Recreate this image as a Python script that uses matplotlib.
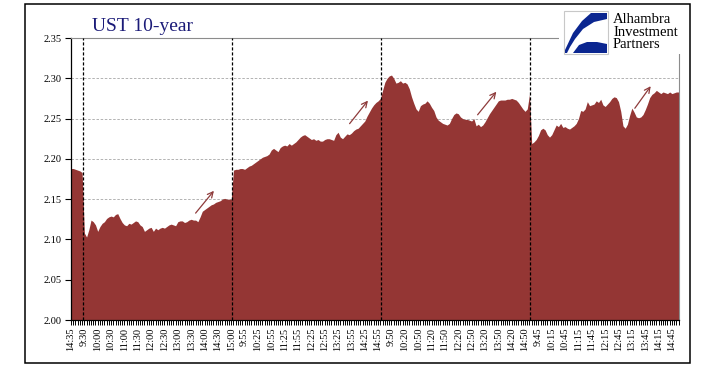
import matplotlib
matplotlib.use("Agg")
import matplotlib.pyplot as plt
from matplotlib.patches import Rectangle, Polygon

# UST 10-year yield, 5-minute bars over five sessions
day1 = [2.188, 2.188, 2.187, 2.186, 2.185, 2.183]
day2 = [2.108, 2.103, 2.112, 2.124, 2.122, 2.118, 2.110, 2.116, 2.120, 2.122,
        2.126, 2.128, 2.129, 2.128, 2.131, 2.132, 2.126, 2.121, 2.118, 2.117,
        2.120, 2.119, 2.121, 2.123, 2.122, 2.118, 2.116, 2.110, 2.112, 2.114,
        2.115, 2.110, 2.114, 2.112, 2.114, 2.115, 2.114, 2.116, 2.118, 2.119,
        2.118, 2.117, 2.122, 2.123, 2.123, 2.121, 2.122, 2.124, 2.125, 2.124,
        2.124, 2.122, 2.128, 2.135, 2.137, 2.139, 2.141, 2.143, 2.144, 2.146,
        2.147, 2.148, 2.150, 2.151, 2.150, 2.150, 2.150]
day3 = [2.186, 2.187, 2.187, 2.188, 2.188, 2.187, 2.189, 2.191, 2.192, 2.194,
        2.196, 2.198, 2.200, 2.202, 2.203, 2.204, 2.206, 2.211, 2.213, 2.211,
        2.209, 2.214, 2.216, 2.217, 2.216, 2.219, 2.217, 2.219, 2.221, 2.224,
        2.227, 2.229, 2.230, 2.228, 2.226, 2.224, 2.225, 2.223, 2.224, 2.222,
        2.222, 2.224, 2.225, 2.225, 2.224, 2.223, 2.230, 2.233, 2.227, 2.225,
        2.228, 2.231, 2.230, 2.232, 2.235, 2.237, 2.238, 2.241, 2.244, 2.247,
        2.253, 2.258, 2.263, 2.267, 2.270, 2.272, 2.275]
day4 = [2.285, 2.295, 2.300, 2.303, 2.304, 2.300, 2.294, 2.295, 2.297, 2.294,
        2.295, 2.293, 2.287, 2.277, 2.269, 2.262, 2.259, 2.266, 2.268, 2.269,
        2.272, 2.269, 2.264, 2.260, 2.252, 2.248, 2.246, 2.244, 2.243, 2.242,
        2.244, 2.250, 2.255, 2.257, 2.256, 2.252, 2.250, 2.249, 2.249, 2.248,
        2.247, 2.250, 2.241, 2.243, 2.240, 2.242, 2.246, 2.251, 2.256, 2.260,
        2.264, 2.268, 2.272, 2.273, 2.273, 2.273, 2.274, 2.274, 2.275, 2.274,
        2.273, 2.270, 2.266, 2.262, 2.259, 2.262, 2.280]
day5 = [2.219, 2.221, 2.224, 2.229, 2.236, 2.238, 2.236, 2.230, 2.227, 2.230,
        2.236, 2.242, 2.240, 2.244, 2.239, 2.240, 2.238, 2.237, 2.239, 2.241,
        2.244, 2.250, 2.260, 2.259, 2.262, 2.271, 2.266, 2.267, 2.268, 2.272,
        2.270, 2.274, 2.267, 2.265, 2.268, 2.271, 2.275, 2.277, 2.276, 2.271,
        2.259, 2.241, 2.238, 2.243, 2.254, 2.263, 2.258, 2.252, 2.251, 2.252,
        2.255, 2.261, 2.268, 2.276, 2.280, 2.282, 2.285, 2.283, 2.281, 2.283,
        2.282, 2.281, 2.283, 2.281, 2.282, 2.283, 2.283]

tick_labels = ["14:35", "9:30", "10:00", "10:30", "11:00", "11:30", "12:00",
               "12:30", "13:00", "13:30", "14:00", "14:30", "15:00",
               "9:55", "10:25", "10:55", "11:25", "11:55", "12:25", "12:55",
               "13:25", "13:55", "14:25", "14:55",
               "9:50", "10:20", "10:50", "11:20", "11:50", "12:20", "12:50",
               "13:20", "13:50", "14:20", "14:50",
               "9:45", "10:15", "10:45", "11:15", "11:45", "12:15", "12:45",
               "13:15", "13:45", "14:15", "14:45"]

# arrows drawn on the chart: (start index, start yield, end index, end yield)
arrows = [(55.2, 2.130, 65.0, 2.163),
          (124.4, 2.241, 134.2, 2.275),
          (181.9, 2.252, 191.9, 2.286),
          (252.6, 2.260, 261.2, 2.293)]

days = [day1, day2, day3, day4, day5]
values = day1 + day2 + day3 + day4 + day5
x = list(range(len(values)))

area_color = "#943634"
serif = ["Liberation Serif", "DejaVu Serif"]
plt.rcParams["font.family"] = serif

fig = plt.figure(figsize=(7.05, 3.75), dpi=100)
ax = fig.add_axes([71 / 705, 1 - 320 / 375, 607.6 / 705, 282 / 375])

ax.fill_between(x, 2.0, values, color=area_color, lw=0, zorder=2)

# day separators
end = -1
for d in days[:-1]:
    end += len(d)
    ax.axvline(end + 0.35, color="black", lw=0.9, ls=(0, (2.5, 1.5)), zorder=3)

for a in arrows:
    ax.annotate("", xy=(a[2], a[3]), xytext=(a[0], a[1]),
                arrowprops=dict(arrowstyle="->", color="#8e3b3b", lw=0.9,
                                mutation_scale=10), zorder=4)

ax.set_xlim(0, len(values) - 1)
ax.set_ylim(2.0, 2.35)
ax.set_yticks([2.00, 2.05, 2.10, 2.15, 2.20, 2.25, 2.30, 2.35])
ax.set_yticklabels(["%.2f" % v for v in ax.get_yticks()])
ax.set_xticks(range(0, len(values), 6))
ax.set_xticklabels(tick_labels, rotation=90)
ax.set_xticks(x, minor=True)
ax.tick_params(axis="both", labelsize=7.5, color="black", direction="out")
ax.tick_params(axis="x", which="both", length=3.5, width=0.7, pad=2)
ax.tick_params(axis="y", length=4, width=0.8, pad=3)

ax.grid(axis="y", color="#a6a6a6", lw=0.6, ls=(0, (3, 2)), zorder=1)
ax.set_axisbelow(True)
for s in ["top", "right"]:
    ax.spines[s].set_color("#8c8c8c")
    ax.spines[s].set_linewidth(0.8)
for s in ["left", "bottom"]:
    ax.spines[s].set_color("black")
    ax.spines[s].set_linewidth(0.9)

fig.text(92 / 705, 1 - 31 / 375, "UST 10-year", fontsize=14,
         color="#1b1b78", va="baseline", ha="left")


def px(px_x, px_y):
    return (px_x / 705, 1 - px_y / 375)


# logo block covering the top-right corner of the plot frame
fig.patches.append(Rectangle(px(559, 54), 128 / 705, 47 / 375,
                             transform=fig.transFigure, facecolor="white",
                             edgecolor="none", zorder=5))
fig.patches.append(Rectangle(px(564, 54), 44 / 705, 43 / 375,
                             transform=fig.transFigure, facecolor="white",
                             edgecolor="#c8c8c8", lw=0.8, zorder=6))
fig.patches.append(Polygon([px(591, 13), px(607, 13), px(607, 19),
                            px(594, 22), px(583, 29), px(575, 39),
                            px(570, 47), px(567, 53), px(565, 53),
                            px(565, 50), px(573, 33), px(582, 21)],
                           closed=True, transform=fig.transFigure,
                           facecolor="#0b2690", edgecolor="none", zorder=7))
fig.patches.append(Polygon([px(573, 53), px(607, 53), px(607, 44),
                            px(597, 42), px(587, 42), px(579, 45)],
                           closed=True, transform=fig.transFigure,
                           facecolor="#0b2690", edgecolor="none", zorder=7))
for i, word in enumerate(["Alhambra", "Investment", "Partners"]):
    fig.text(613 / 705, 1 - (23 + 12.5 * i) / 375, word, fontsize=10.5,
             color="black", va="baseline", ha="left", zorder=7)

# outer frame
fig.patches.append(Rectangle(px(25, 363), 665 / 705, 359 / 375,
                             transform=fig.transFigure, facecolor="none",
                             edgecolor="black", lw=1.1, zorder=8))

fig.savefig("out.png", dpi=100)
